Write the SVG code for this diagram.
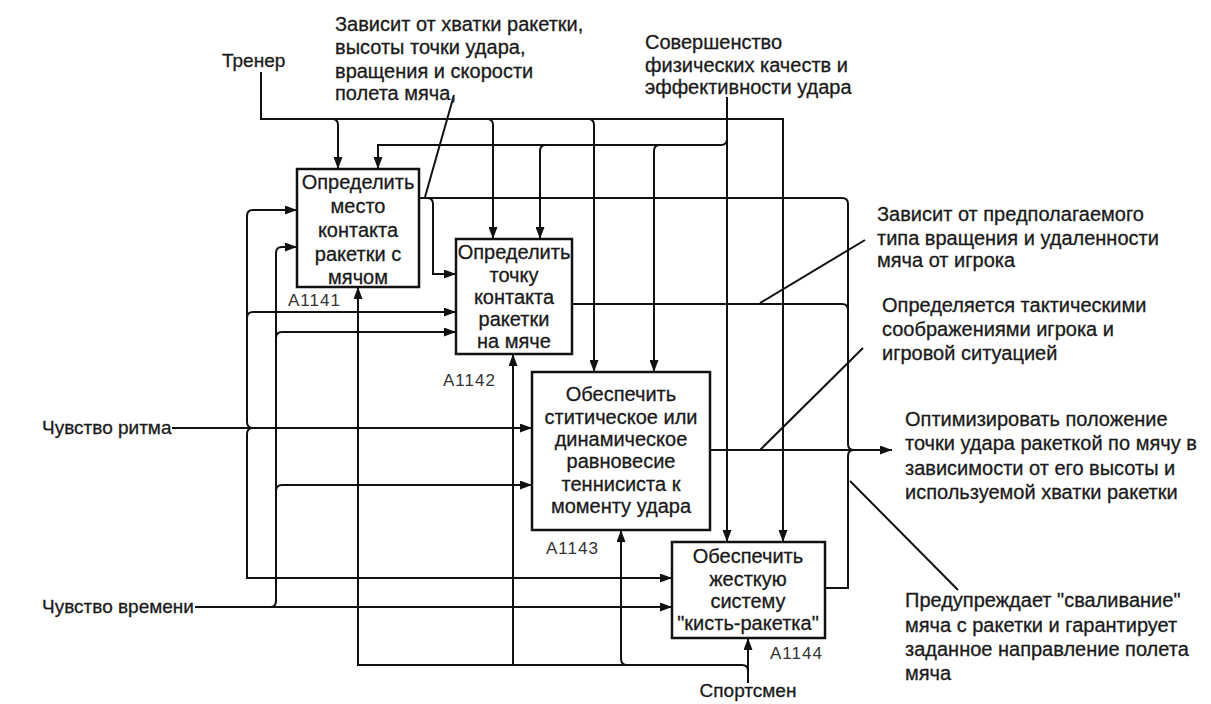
<svg xmlns="http://www.w3.org/2000/svg" width="1211" height="704" viewBox="0 0 1211 704">
<style>
text{font-family:"Liberation Sans",Arial,sans-serif;font-size:20px;fill:#1a1a1a;stroke:#1a1a1a;stroke-width:0.3}
.c{text-anchor:middle}
.s{font-size:19px}
.id{font-size:17px;letter-spacing:1px;fill:#333;stroke:none}
.box{fill:#fff;stroke:#111;stroke-width:2.5}
.ln{fill:none;stroke:#111;stroke-width:2}
.ar{marker-end:url(#ah)}
</style>
<defs>
<marker id="ah" viewBox="0 0 12 9" refX="12" refY="4.5" markerWidth="12" markerHeight="9" markerUnits="userSpaceOnUse" orient="auto">
<path d="M0,0 L12,4.5 L0,9 Z" fill="#111"/>
</marker>
</defs>
<rect width="1211" height="704" fill="#fff"/>
<g id="connectors">
<!-- Тренер -->
<path class="ln ar" d="M261,72 V119 H783 V542"/>
<path class="ln ar" d="M332,119 Q338,119 338,125 V169"/>
<path class="ln ar" d="M487,119 Q493,119 493,125 V239"/>
<path class="ln ar" d="M588,119 Q594,119 594,125 V372"/>
<!-- Совершенство -->
<path class="ln ar" d="M727,97 V542"/>
<path class="ln ar" d="M727,139 Q727,145 721,145 H378 V169"/>
<path class="ln ar" d="M546,145 Q540,145 540,151 V239"/>
<path class="ln ar" d="M660,145 Q654,145 654,151 V372"/>
<!-- outputs -->
<path class="ln" d="M419,198 H842 Q848,198 848,204 V444 Q848,450 854,450"/>
<path class="ln" d="M572,304 H842 Q848,304 848,310"/>
<path class="ln" d="M825,588 H848 V456 Q848,450 854,450"/>
<path class="ln ar" d="M710,450 H892"/>
<path class="ln ar" d="M427,198 Q433,198 433,204 V274 H456"/>
<!-- Чувство ритма -->
<path class="ln ar" d="M172,428 H532"/>
<path class="ln ar" d="M253,428 Q247,428 247,422 V216 Q247,210 253,210 H297"/>
<path class="ln ar" d="M253,428 Q247,428 247,434 V578 H672"/>
<path class="ln ar" d="M247,318 Q247,312 253,312 H456"/>
<!-- Чувство времени -->
<path class="ln ar" d="M195,607 H672"/>
<path class="ln ar" d="M270,607 Q276,607 276,601 V253 Q276,247 282,247 H297"/>
<path class="ln ar" d="M276,338 Q276,332 282,332 H456"/>
<path class="ln ar" d="M276,491 Q276,485 282,485 H532"/>
<!-- Спортсмен -->
<path class="ln ar" d="M748,683 V638"/>
<path class="ln ar" d="M748,671 Q748,665 742,665 H358 V287"/>
<path class="ln ar" d="M513,665 V354"/>
<path class="ln ar" d="M627,665 Q621,665 621,659 V530"/>
<!-- annotation leaders -->
<path class="ln" d="M454,95 L425,197"/>
<path class="ln" d="M865,240 L760,303"/>
<path class="ln" d="M863,348 L760,450"/>
<path class="ln" d="M850,481 L958,590"/>
</g>
<g id="A1141">
<rect class="box" x="297" y="169" width="122" height="118"/>
<text class="c" x="358" y="189">Определить</text>
<text class="c" x="358" y="213">место</text>
<text class="c" x="358" y="237">контакта</text>
<text class="c" x="358" y="261">ракетки с</text>
<text class="c" x="358" y="284">мячом</text>
<text class="id" x="288" y="306">A1141</text>
</g>
<g id="A1142">
<rect class="box" x="456" y="239" width="116" height="115"/>
<text class="c" x="514" y="259">Определить</text>
<text class="c" x="514" y="282">точку</text>
<text class="c" x="514" y="304">контакта</text>
<text class="c" x="514" y="326">ракетки</text>
<text class="c" x="514" y="348">на мяче</text>
<text class="id" x="443" y="386">A1142</text>
</g>
<g id="A1143">
<rect class="box" x="532" y="372" width="178" height="158"/>
<text class="c" x="621" y="401">Обеспечить</text>
<text class="c" x="621" y="424">ститическое или</text>
<text class="c" x="621" y="446">динамическое</text>
<text class="c" x="621" y="468">равновесие</text>
<text class="c" x="621" y="491">теннисиста к</text>
<text class="c" x="621" y="513">моменту удара</text>
<text class="id" x="546" y="554">A1143</text>
</g>
<g id="A1144">
<rect class="box" x="672" y="542" width="153" height="96"/>
<text class="c" x="748" y="563">Обеспечить</text>
<text class="c" x="748" y="586">жесткую</text>
<text class="c" x="748" y="608">систему</text>
<text class="c" x="748" y="630">"кисть-ракетка"</text>
<text class="id" x="770" y="659">A1144</text>
</g>
<g id="labels">
<text class="s" x="222" y="67">Тренер</text>
<text x="335" y="31">Зависит от хватки ракетки,</text>
<text x="335" y="54">высоты точки удара,</text>
<text x="335" y="78">вращения и скорости</text>
<text x="335" y="100">полета мяча,</text>
<text x="645" y="49">Совершенство</text>
<text x="645" y="72">физических качеств и</text>
<text x="645" y="94">эффективности удара</text>
<text x="877" y="221">Зависит от предполагаемого</text>
<text x="877" y="245">типа вращения и удаленности</text>
<text x="877" y="267">мяча от игрока</text>
<text x="882" y="312">Определяется тактическими</text>
<text x="882" y="336">соображениями игрока и</text>
<text x="882" y="360">игровой ситуацией</text>
<text x="905" y="426">Оптимизировать положение</text>
<text x="905" y="450">точки удара ракеткой по мячу в</text>
<text x="905" y="475">зависимости от его высоты и</text>
<text x="905" y="499">используемой хватки ракетки</text>
<text x="905" y="607">Предупреждает "сваливание"</text>
<text x="905" y="632">мяча с ракетки и гарантирует</text>
<text x="905" y="656">заданное направление полета</text>
<text x="905" y="680">мяча</text>
<text class="s" x="42" y="434">Чувство ритма</text>
<text class="s" x="42" y="613">Чувство времени</text>
<text class="c s" x="748" y="697">Спортсмен</text>
</g>
</svg>
